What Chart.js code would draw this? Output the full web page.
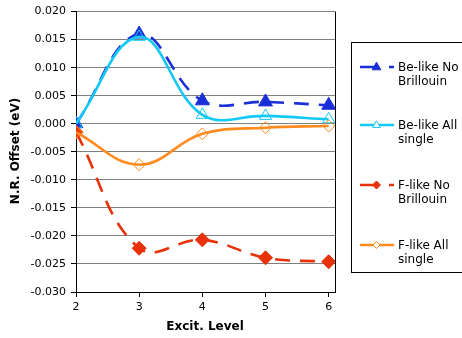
<!DOCTYPE html>
<html><head><meta charset="utf-8">
<script src="https://cdn.jsdelivr.net/npm/chart.js@4/dist/chart.umd.min.js"></script>
<style>html,body{margin:0;padding:0;background:#fff;}#wrap{width:462px;height:338px;position:relative;}</style>
</head><body><div id="wrap"><canvas id="c" width="462" height="338"></canvas></div>
<script>
const levels = [2, 3, 4, 5, 6];
const beNoBrillouin = [0.0000, 0.0160, 0.0041, 0.0039, 0.0033];
const beAllSingle   = [0.0000, 0.0155, 0.0016, 0.0014, 0.0008];
const fNoBrillouin  = [-0.0015, -0.0222, -0.0207, -0.0239, -0.0246];
const fAllSingle    = [-0.0015, -0.0073, -0.0018, -0.0007, -0.0004];
const xTicks = [2, 3, 4, 5, 6];
const seriesNames = [["Be-like No","Brillouin"],["Be-like All","single"],["F-like No","Brillouin"],["F-like All","single"]];

const FONT = "'DejaVu Sans', Verdana, sans-serif";
const pts = arr => levels.map((x,i)=>({x:x,y:arr[i]}));
const DASH = [15, 10];
const styles = [
  {color:'#1a2fd8', style:'triangle', fill:true, r:8, dash:DASH},
  {color:'#14c8f5', style:'triangle', fill:false, r:7, dash:[]},
  {color:'#e8320a', style:'rectRot', fill:true, r:7, dash:DASH},
  {color:'#ff8a1e', style:'rectRot', fill:false, r:6, dash:[]}
];
const datas = [beNoBrillouin, beAllSingle, fNoBrillouin, fAllSingle];
const datasets = datas.map((d,i)=>({
  label: seriesNames[i].join(' '),
  data: pts(d),
  borderColor: styles[i].color,
  backgroundColor: styles[i].fill ? styles[i].color : '#ffffff',
  pointBorderColor: styles[i].color,
  pointBackgroundColor: styles[i].fill ? styles[i].color : 'rgba(255,255,255,0)',
  pointStyle: styles[i].style,
  pointRadius: styles[i].r,
  pointBorderWidth: 1,
  borderWidth: 2.6,
  borderDash: styles[i].dash,
  tension: 0.4,
  fill: false,
  order: 4 - i
}));

const decor = {
  id:'decor',
  afterDraw(chart){
    const ctx = chart.ctx, a = chart.chartArea;
    ctx.save();
    ctx.strokeStyle='#000'; ctx.lineWidth=1;
    ctx.beginPath(); ctx.moveTo(a.right+0.5, a.top); ctx.lineTo(a.right+0.5, a.bottom+0.5); ctx.stroke();
    ctx.fillStyle='#000';
    ctx.font = "bold 12px " + FONT;
    ctx.textAlign='center'; ctx.textBaseline='middle';
    ctx.fillText('Excit. Level', 205, 327);
    ctx.save(); ctx.translate(16,151); ctx.rotate(-Math.PI/2); ctx.fillText('N.R. Offset (eV)',0,0); ctx.restore();
    const lx = 351.5, ly = 42.5, lw = 130, lh = 230;
    ctx.fillStyle='#fff'; ctx.fillRect(lx,ly,lw,lh);
    ctx.strokeStyle='#000'; ctx.lineWidth=1; ctx.strokeRect(lx,ly,lw,lh);
    const rows = [67, 125, 185, 245];
    rows.forEach((y,i)=>{
      const s = styles[i];
      ctx.save();
      ctx.strokeStyle=s.color; ctx.lineWidth=2.6;
      ctx.beginPath();
      if (s.dash.length){ ctx.moveTo(360,y); ctx.lineTo(378,y); ctx.moveTo(389,y); ctx.lineTo(394,y); }
      else { ctx.moveTo(360,y); ctx.lineTo(394,y); }
      ctx.stroke();
      ctx.restore();
      const mr = s.fill ? 4 : 3.5;
      ctx.save(); ctx.lineWidth=1; ctx.strokeStyle=s.color; ctx.fillStyle=s.fill?s.color:'#fff';
      ctx.beginPath();
      const cx = 376.5;
      if (s.style==='triangle'){
        ctx.moveTo(cx, y-mr*1.2); ctx.lineTo(cx+mr*1.1, y+mr*0.7); ctx.lineTo(cx-mr*1.1, y+mr*0.7); ctx.closePath();
      } else {
        ctx.moveTo(cx, y-mr); ctx.lineTo(cx+mr, y); ctx.lineTo(cx, y+mr); ctx.lineTo(cx-mr, y); ctx.closePath();
      }
      ctx.fill(); ctx.stroke(); ctx.restore();
      ctx.fillStyle='#000'; ctx.font="12px "+FONT; ctx.textAlign='left'; ctx.textBaseline='middle';
      ctx.fillText(seriesNames[i][0], 398, y+1);
      ctx.fillText(seriesNames[i][1], 398, y+15);
    });
    ctx.restore();
  }
};

new Chart(document.getElementById('c'), {
  type:'line',
  data:{datasets},
  options:{
    responsive:false, animation:false,
    layout:{padding:{top:11, right:127, left:0, bottom:0}},
    plugins:{legend:{display:false}, tooltip:{enabled:false}},
    scales:{
      x:{type:'linear', min:2, max:6.1,
        afterBuildTicks(s){ s.ticks = xTicks.map(v=>({value:v})); },
        afterFit(s){ s.height = 46; },
        grid:{drawOnChartArea:false, tickLength:5, tickColor:'#000'},
        border:{color:'#000', width:1},
        ticks:{font:{family:FONT,size:11}, color:'#000', padding:4, maxRotation:0, autoSkip:false}
      },
      y:{type:'linear', min:-0.03, max:0.02,
        afterFit(s){ s.width = 76; },
        grid:{color:'#808080', tickLength:5, tickColor:'#000'},
        border:{color:'#000', width:1},
        ticks:{stepSize:0.005, font:{family:FONT,size:11}, color:'#000', padding:5,
          callback:v=> (Math.abs(v)<1e-9?0:v).toFixed(3)}
      }
    }
  },
  plugins:[decor]
});
</script></body></html>
